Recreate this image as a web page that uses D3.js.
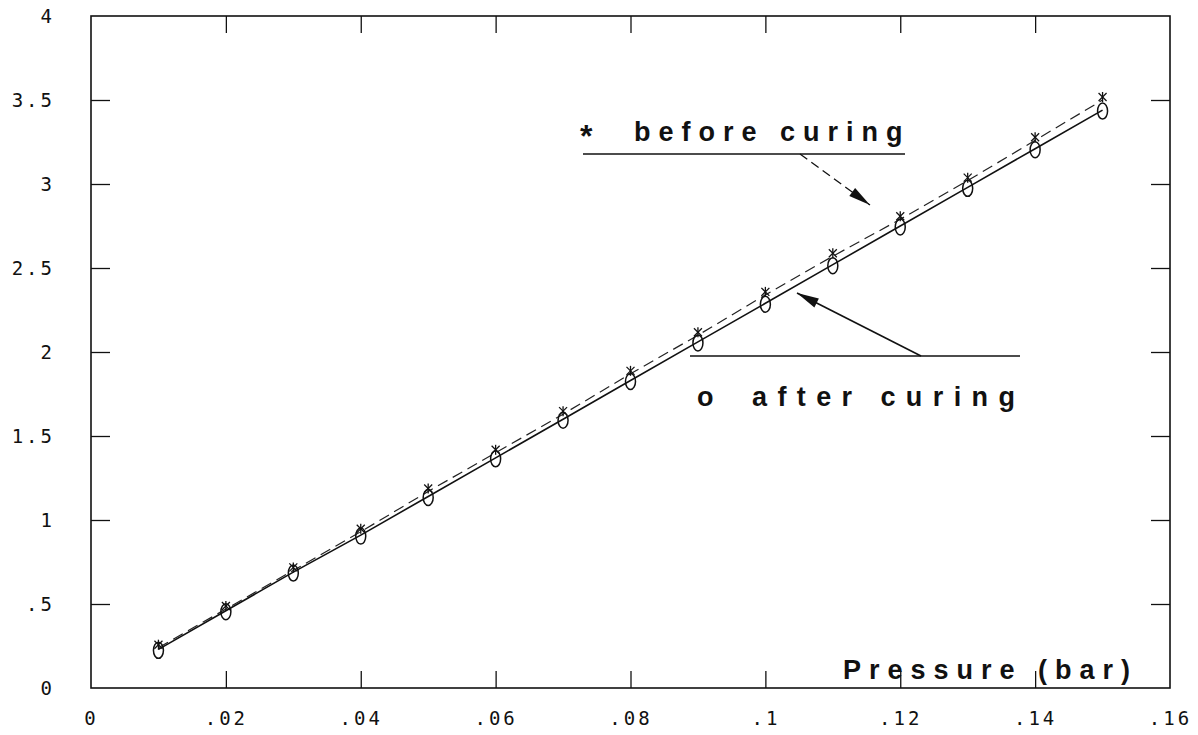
<!DOCTYPE html>
<html>
<head>
<meta charset="utf-8">
<script src="https://cdn.jsdelivr.net/npm/d3@7"></script>
<style>
  body { margin: 0; background: #fff; }
  .axis text { font-family: "DejaVu Sans Mono", monospace; font-size: 19px; letter-spacing: 3px; fill: #111; }
  .axis line { stroke: #111; stroke-width: 1.3; }
  .axis .domain { display: none; }
  .lbl { font-family: "Liberation Sans", Arial, sans-serif; font-weight: bold; fill: #111; }
</style>
</head>
<body>
<svg id="chart" width="1198" height="735"></svg>
<script>
"use strict";

var pressure = [0.01, 0.02, 0.03, 0.04, 0.05, 0.06, 0.07, 0.08, 0.09, 0.10, 0.11, 0.12, 0.13, 0.14, 0.15];
var beforeCuring = [0.24, 0.47, 0.70, 0.93, 1.17, 1.40, 1.63, 1.87, 2.10, 2.34, 2.57, 2.79, 3.02, 3.26, 3.50];
var afterCuring = [0.23, 0.46, 0.69, 0.91, 1.14, 1.37, 1.60, 1.83, 2.06, 2.29, 2.52, 2.75, 2.98, 3.21, 3.44];
var xTicks = [0, 0.02, 0.04, 0.06, 0.08, 0.1, 0.12, 0.14, 0.16];
var xTickLabels = ['0', '.02', '.04', '.06', '.08', '.1', '.12', '.14', '.16'];
var yTicks = [0, 0.5, 1, 1.5, 2, 2.5, 3, 3.5, 4];
var yTickLabels = ['0', '.5', '1', '1.5', '2', '2.5', '3', '3.5', '4'];

function draw_chart(svg) {
  var margin = { top: 16, right: 28, bottom: 47, left: 91 };
  var width = 1198 - margin.left - margin.right;
  var height = 735 - margin.top - margin.bottom;

  var plot = svg.append('g')
    .attr('transform', 'translate(' + margin.left + ',' + margin.top + ')');

  var X = d3.scaleLinear().domain([0, 0.16]).range([0, width]);
  var Y = d3.scaleLinear().domain([0, 4]).range([height, 0]);

  // frame
  plot.append('rect')
    .attr('width', width).attr('height', height)
    .attr('fill', 'none').attr('stroke', '#111').attr('stroke-width', 1.6);

  var fmtX = function (d) { return xTickLabels[xTicks.indexOf(d)]; };
  var fmtY = function (d) { return yTickLabels[yTicks.indexOf(d)]; };

  plot.append('g').attr('class', 'axis')
    .attr('transform', 'translate(0,' + height + ')')
    .call(d3.axisBottom(X).tickValues(xTicks).tickFormat(fmtX).tickSizeInner(-17).tickSizeOuter(0).tickPadding(24));
  plot.append('g').attr('class', 'axis')
    .call(d3.axisTop(X).tickValues(xTicks).tickFormat('').tickSizeInner(-17).tickSizeOuter(0));
  plot.append('g').attr('class', 'axis')
    .call(d3.axisLeft(Y).tickValues(yTicks).tickFormat(fmtY).tickSizeInner(-19).tickSizeOuter(0).tickPadding(36));
  plot.append('g').attr('class', 'axis')
    .attr('transform', 'translate(' + width + ',0)')
    .call(d3.axisRight(Y).tickValues(yTicks).tickFormat('').tickSizeInner(-19).tickSizeOuter(0));

  // hide the tick marks that fall on the frame corners
  plot.selectAll('.axis .tick').filter(function (d) { return d === 0 || d === 0.16 || d === 4; })
    .select('line').attr('display', 'none');

  var after = pressure.map(function (p, i) { return { x: p, y: afterCuring[i] }; });
  var before = pressure.map(function (p, i) { return { x: p, y: beforeCuring[i] }; });

  var line = d3.line().x(function (d) { return X(d.x); }).y(function (d) { return Y(d.y); });

  plot.append('path').datum(before)
    .attr('d', line).attr('fill', 'none').attr('stroke', '#222')
    .attr('stroke-width', 1.2).attr('stroke-dasharray', '11,6');
  plot.append('path').datum(after)
    .attr('d', line).attr('fill', 'none').attr('stroke', '#111').attr('stroke-width', 1.6);

  // before-curing markers (asterisk)
  var star = plot.append('g').selectAll('g').data(before).join('g')
    .attr('transform', function (d) { return 'translate(' + X(d.x) + ',' + (Y(d.y) - 3) + ')'; });
  [[-4, -4, 4, 4], [4, -4, -4, 4], [0, -5, 0, 5]].forEach(function (s) {
    star.append('line').attr('x1', s[0]).attr('y1', s[1]).attr('x2', s[2]).attr('y2', s[3])
      .attr('stroke', '#111').attr('stroke-width', 1.3);
  });

  // after-curing markers (o)
  plot.append('g').selectAll('ellipse').data(after).join('ellipse')
    .attr('cx', function (d) { return X(d.x); })
    .attr('cy', function (d) { return Y(d.y) + 1; })
    .attr('rx', 5).attr('ry', 8)
    .attr('fill', 'none').attr('stroke', '#111').attr('stroke-width', 1.5);

  // annotations
  var defs = svg.append('defs');
  defs.append('marker').attr('id', 'arr').attr('viewBox', '0 0 20 10')
    .attr('refX', 20).attr('refY', 5).attr('markerWidth', 28).attr('markerHeight', 11)
    .attr('markerUnits', 'userSpaceOnUse').attr('orient', 'auto')
    .append('path').attr('d', 'M0,0.5 L20,5 L0,9.5 Z').attr('fill', '#111');

  svg.append('text').attr('class', 'lbl').attr('x', 580).attr('y', 147)
    .attr('font-size', 32).text('*');
  svg.append('text').attr('class', 'lbl').attr('x', 634).attr('y', 141)
    .attr('font-size', 27).attr('letter-spacing', 8).text('before curing');
  svg.append('line').attr('x1', 583).attr('x2', 905).attr('y1', 154).attr('y2', 154)
    .attr('stroke', '#111').attr('stroke-width', 1.4);
  svg.append('line').attr('x1', 800).attr('y1', 154).attr('x2', 870).attr('y2', 205)
    .attr('stroke', '#111').attr('stroke-width', 1.3).attr('stroke-dasharray', '9,5')
    .attr('marker-end', 'url(#arr)');

  svg.append('line').attr('x1', 690).attr('x2', 1020).attr('y1', 356).attr('y2', 356)
    .attr('stroke', '#111').attr('stroke-width', 1.4);
  svg.append('text').attr('class', 'lbl').attr('x', 697).attr('y', 406)
    .attr('font-size', 27).text('o');
  svg.append('text').attr('class', 'lbl').attr('x', 752).attr('y', 406)
    .attr('font-size', 27).attr('letter-spacing', 10.4).text('after curing');
  svg.append('line').attr('x1', 921).attr('y1', 356).attr('x2', 797).attr('y2', 293)
    .attr('stroke', '#111').attr('stroke-width', 1.6)
    .attr('marker-end', 'url(#arr)');

  svg.append('text').attr('class', 'lbl').attr('x', 843).attr('y', 679)
    .attr('font-size', 27).attr('letter-spacing', 8).text('Pressure (bar)');
}

draw_chart(d3.select('#chart'));
</script>
</body>
</html>
